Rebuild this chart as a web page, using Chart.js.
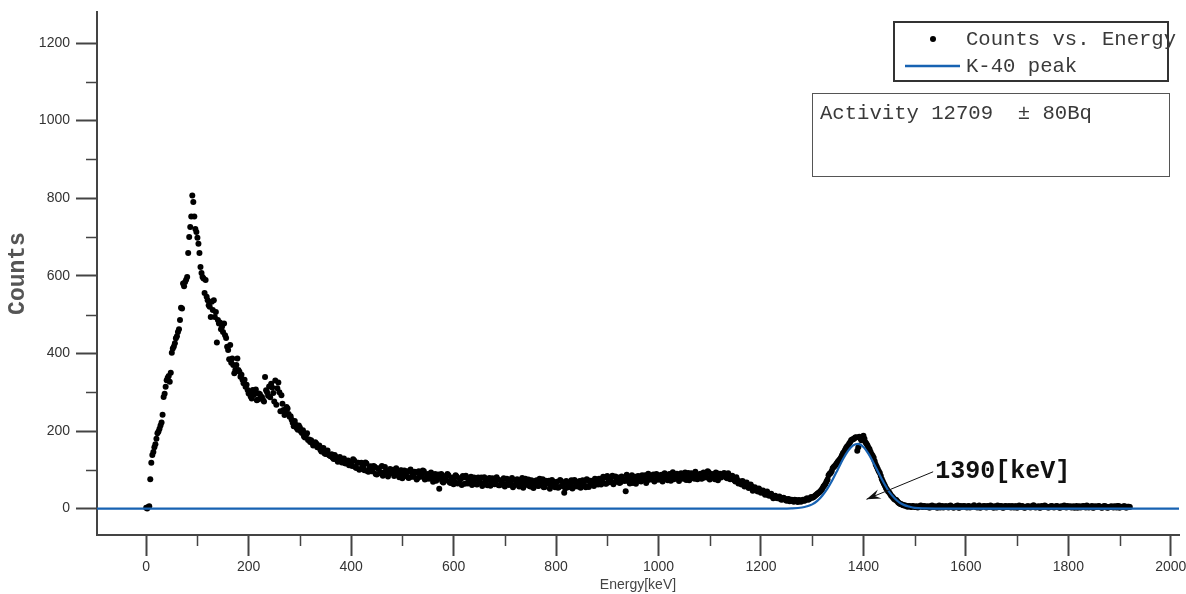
<!DOCTYPE html>
<html>
<head>
<meta charset="utf-8">
<title>Counts vs. Energy</title>
<script src="https://cdn.jsdelivr.net/npm/chart.js@4.4.1/dist/chart.umd.min.js"></script>
<style>
  html, body { margin: 0; padding: 0; background: #fff; }
  canvas { display: block; }
</style>
</head>
<body>
<canvas id="spectrumChart" width="1186" height="594"></canvas>
<script>
// Spectrum points (energy in keV, counts per channel)
const energy = [
  0,2,4,6,8,10,12,14,16,18,
  20,22,24,26,28,30,32,34,36,38,
  40,42,44,46,48,50,52,54,56,58,
  60,62,64,66,68,70,72,74,76,78,
  80,82,84,86,88,90,92,94,96,98,
  100,102,104,106,108,110,112,114,116,118,
  120,122,124,126,128,130,132,134,136,138,
  140,142,144,146,148,150,152,154,156,158,
  160,162,164,166,168,170,172,174,176,178,
  180,182,184,186,188,190,192,194,196,198,
  200,
  204,208,212,216,220,224,228,232,236,240,
  244,248,252,256,260,264,268,272,276,280,
  284,288,292,296,300,304,308,312,316,320,
  324,328,332,336,340,344,348,352,356,360,
  364,368,372,376,380,384,388,392,396,400,
  404,408,412,416,420,424,428,432,436,440,
  444,448,452,456,460,464,468,472,476,480,
  484,488,492,496,500,504,508,512,516,520,
  524,528,532,536,540,544,548,552,556,560,
  564,568,572,576,580,584,588,592,596,600,
  604,608,612,616,620,624,628,632,636,640,
  644,648,652,656,660,664,668,672,676,680,
  684,688,692,696,700,704,708,712,716,720,
  724,728,732,736,740,744,748,752,756,760,
  764,768,772,776,780,784,788,792,796,800,
  804,808,812,816,820,824,828,832,836,840,
  844,848,852,856,860,864,868,872,876,880,
  884,888,892,896,900,904,908,912,916,920,
  924,928,932,936,940,944,948,952,956,960,
  964,968,972,976,980,984,988,992,996,1000,
  1004,1008,1012,1016,1020,1024,1028,1032,1036,1040,
  1044,1048,1052,1056,1060,1064,1068,1072,1076,1080,
  1084,1088,1092,1096,1100,1104,1108,1112,1116,1120,
  1124,1128,1132,1136,1140,1144,1148,1152,1156,1160,
  1164,1168,1172,1176,1180,1184,1188,1192,1196,1200,
  1204,1208,1212,1216,1220,1224,1228,1232,1236,1240,
  1244,1248,1252,1256,1260,1264,1268,1272,1276,1280,
  1284,1288,1292,1296,1300,1304,1308,1312,1316,1320,
  1324,1328,1332,1336,1340,1344,1348,1352,1356,1360,
  1364,1368,1372,1376,1380,1384,1388,1392,1396,1400,
  1404,1408,1412,1416,1420,1424,1428,1432,1436,1440,
  1444,1448,1452,1456,1460,1464,1468,1472,1476,1480,
  1484,1488,1492,1496,1500,1504,1508,1512,1516,1520,
  1524,1528,1532,1536,1540,1544,1548,1552,1556,1560,
  1564,1568,1572,1576,1580,1584,1588,1592,1596,1600,
  1604,1608,1612,1616,1620,1624,1628,1632,1636,1640,
  1644,1648,1652,1656,1660,1664,1668,1672,1676,1680,
  1684,1688,1692,1696,1700,1704,1708,1712,1716,1720,
  1724,1728,1732,1736,1740,1744,1748,1752,1756,1760,
  1764,1768,1772,1776,1780,1784,1788,1792,1796,1800,
  1804,1808,1812,1816,1820,1824,1828,1832,1836,1840,
  1844,1848,1852,1856,1860,1864,1868,1872,1876,1880,
  1884,1888,1892,1896,1900,1904,1908,1912,1916,1920
];

const counts = [
  2,0,4,6,76,118,138,146,158,166,
  180,194,199,206,214,222,242,288,296,314,
  331,337,342,327,350,402,413,418,426,439,
  444,455,462,486,518,516,580,573,584,590,
  597,659,700,726,753,807,790,753,721,713,
  698,683,659,623,607,597,593,556,589,546,
  537,524,520,494,533,512,537,494,507,428,
  486,477,480,462,469,455,477,447,440,417,
  409,385,422,376,387,370,349,357,370,387,
  357,353,340,345,332,323,332,314,319,306,
  297,
  289,306,297,279,297,286,280,339,300,315,
  322,298,330,310,300,292,254,246,258,237,
  229,212,216,203,209,195,186,190,177,172,
  169,165,168,160,152,155,143,148,139,135,
  131,138,126,130,122,126,117,122,112,118,
  127,107,118,100,118,106,119,96,106,96,
  110,89,104,91,110,92,97,83,102,92,
  84,104,89,98,78,98,92,79,101,83,
  95,75,96,82,98,75,87,77,93,69,
  89,75,51,89,67,84,89,68,79,63,
  86,65,78,61,81,85,65,74,61,80,
  63,80,67,58,81,71,77,59,78,63,
  81,60,73,65,57,77,61,71,55,74,
  76,57,69,54,77,64,58,73,53,71,
  59,77,63,55,72,65,51,74,58,67,
  54,74,58,41,71,55,65,52,74,60,
  68,54,73,59,76,56,72,62,77,69,
  77,62,82,65,84,68,80,63,83,71,
  66,83,73,45,82,65,86,77,64,84,
  71,86,74,66,90,76,84,70,89,75,
  86,70,91,79,88,72,94,78,90,71,
  91,77,93,80,73,91,82,95,76,87,
  77,93,82,96,75,89,80,93,73,90,
  88,92,80,91,76,85,73,81,65,70,
  71,57,67,53,62,46,55,46,52,41,
  47,36,44,33,38,27,33,27,31,23,
  28,22,24,19,23,18,22,17,21,20,
  20,25,23,27,28,31,36,40,45,52,
  60,70,86,92,104,110,117,124,131,143,
  151,160,167,176,179,183,149,185,176,188,
  171,163,153,140,131,114,102,92,76,64,
  53,45,38,31,25,22,16,12,10,8,
  7,6,5,7,4,6,5,8,4,6,
  5,3,7,4,6,2,8,5,3,6,
  4,7,5,2,6,8,3,5,7,4,
  6,3,5,9,4,6,2,5,7,3,
  5,8,4,6,3,5,7,2,6,4,
  7,3,5,6,2,8,4,5,3,6,
  4,6,9,3,5,2,7,4,6,3,
  5,7,3,6,4,2,5,8,3,5,
  6,4,2,7,5,3,6,4,8,3,
  5,2,6,4,7,3,5,6,2,4,
  6,3,5,7,2,4,6,3,5,4
];

// Interleaved channels between the ones above
const energyB = [
  202,206,210,214,218,222,226,230,234,238,
  242,246,250,254,258,262,266,270,274,278,
  282,286,290,294,298,302,306,310,314,318,
  322,326,330,334,338,342,346,350,354,358,
  362,366,370,374,378,382,386,390,394,398,
  402,406,410,414,418,422,426,430,434,438,
  442,446,450,454,458,462,466,470,474,478,
  482,486,490,494,498,502,506,510,514,518,
  522,526,530,534,538,542,546,550,554,558,
  562,566,570,574,578,582,586,590,594,598,
  602,606,610,614,618,622,626,630,634,638,
  642,646,650,654,658,662,666,670,674,678,
  682,686,690,694,698,702,706,710,714,718,
  722,726,730,734,738,742,746,750,754,758,
  762,766,770,774,778,782,786,790,794,798,
  802,806,810,814,818,822,826,830,834,838,
  842,846,850,854,858,862,866,870,874,878,
  882,886,890,894,898,902,906,910,914,918,
  922,926,930,934,938,942,946,950,954,958,
  962,966,970,974,978,982,986,990,994,998,
  1002,1006,1010,1014,1018,1022,1026,1030,1034,1038,
  1042,1046,1050,1054,1058,1062,1066,1070,1074,1078,
  1082,1086,1090,1094,1098,1102,1106,1110,1114,1118,
  1122,1126,1130,1134,1138,1142,1146,1150,1154,1158,
  1162,1166,1170,1174,1178,1182,1186,1190,1194,1198,
  1202,1206,1210,1214,1218,1222,1226,1230,1234,1238,
  1242,1246,1250,1254,1258,1262,1266,1270,1274,1278,
  1282,1286,1290,1294,1298,1302,1306,1310,1314,1318,
  1322,1326,1330,1334,1338,1342,1346,1350,1354,1358,
  1362,1366,1370,1374,1378,1382,1386,1390,1394,1398,
  1402,1406,1410,1414,1418,1422,1426,1430,1434,1438,
  1442,1446,1450,1454,1458,1462,1466,1470,1474,1478,
  1482,1486,1490,1494,1498,1502,1506,1510,1514,1518,
  1522,1526,1530,1534,1538,1542,1546,1550,1554,1558,
  1562,1566,1570,1574,1578,1582,1586,1590,1594,1598,
  1602,1606,1610,1614,1618,1622,1626,1630,1634,1638,
  1642,1646,1650,1654,1658,1662,1666,1670,1674,1678,
  1682,1686,1690,1694,1698,1702,1706,1710,1714,1718,
  1722,1726,1730,1734,1738,1742,1746,1750,1754,1758,
  1762,1766,1770,1774,1778,1782,1786,1790,1794,1798,
  1802,1806,1810,1814,1818,1822,1826,1830,1834,1838,
  1842,1846,1850,1854,1858,1862,1866,1870,1874,1878,
  1882,1886,1890,1894,1898,1902,1906,1910,1914,1918
];

const countsB = [
  301,284,293,307,281,295,288,276,305,291,
  287,312,276,268,325,251,270,241,262,244,
  238,221,226,207,214,199,202,183,194,178,
  176,163,171,158,163,147,156,141,150,137,
  140,128,134,121,133,119,129,116,124,113,
  110,124,105,118,102,114,99,116,95,109,
  96,108,88,103,94,85,107,97,90,99,
  100,87,95,81,99,90,84,96,80,94,
  82,94,79,90,85,96,77,89,84,78,
  85,72,88,78,70,81,73,86,66,80,
  70,83,66,76,84,64,79,70,82,67,
  76,62,74,80,64,72,60,79,66,74,
  64,76,60,71,78,62,73,66,79,60,
  62,74,65,79,59,70,75,57,68,63,
  73,58,69,76,56,67,72,60,70,55,
  69,56,71,62,52,67,59,73,56,68,
  57,71,60,67,55,73,61,70,58,75,
  62,75,70,80,64,77,71,85,67,79,
  80,68,77,71,87,70,79,66,82,72,
  83,70,80,86,72,81,75,88,73,82,
  75,87,78,84,73,89,80,76,87,83,
  78,88,84,74,92,79,86,77,89,80,
  90,78,87,80,94,81,88,76,91,82,
  80,87,83,78,86,79,76,70,74,67,
  62,68,58,61,55,57,50,52,44,48,
  43,40,39,35,36,31,32,28,29,25,
  24,26,20,25,21,20,23,19,22,18,
  23,21,27,24,30,29,34,38,42,48,
  57,64,75,90,96,107,113,121,127,137,
  146,156,163,171,178,181,184,158,181,183,
  180,167,157,146,136,122,108,96,84,70,
  59,49,42,34,28,23,19,14,11,9,
  8,5,7,4,6,5,3,6,5,7,
  4,6,3,8,5,4,6,3,7,5,
  6,3,8,5,4,6,2,7,5,6,
  3,7,4,6,5,3,8,4,6,5,
  7,4,6,2,5,8,4,6,3,7,
  4,5,7,3,6,4,5,7,2,5,
  6,3,5,7,4,6,3,5,8,4,
  3,6,4,5,7,3,6,4,5,7,
  5,3,6,4,2,6,5,7,3,6,
  4,7,3,5,6,4,2,7,5,3,
  5,4,6,3,7,5,4,6,3,5
];

// K-40 peak fit
const fitEnergy = [-120, 1240, 1260, 1280, 1290, 1300, 1310, 1320, 1330, 1340, 1350, 1360, 1370,
  1380, 1390, 1400, 1410, 1420, 1430, 1440, 1450, 1460, 1470, 1480, 1490, 1500, 1520, 1540, 2100];
const fitCounts = [0, 0, 0.6, 2.9, 6, 11, 20, 34, 52, 75, 101, 127, 149,
  163, 167, 159, 141, 117, 91, 66, 44, 28, 16, 9, 5, 2, 0.4, 0, 0];

// Minor tick values (unlabelled)
const xMinorTicks = [100, 300, 500, 700, 900, 1100, 1300, 1500, 1700, 1900];
const yMinorTicks = [100, 300, 500, 700, 900, 1100];

// Texts
const legendLabels = ['Counts vs. Energy', 'K-40 peak'];
const activityText = 'Activity 12709  \u00b1 80Bq';
const peakLabel = '1390[keV]';
const peakArrowTip = [1406, 24];
const peakLabelPos = [1540, 95];

const blue = '#1762b2';
const axisColor = '#444';
const mono = '"Liberation Mono", "Courier New", monospace';
const sans = '"Liberation Sans", Arial, Helvetica, sans-serif';

const points = energy.map((e, i) => ({ x: e, y: counts[i] }))
  .concat(energyB.map((e, i) => ({ x: e, y: countsB[i] })));
const fitPoints = fitEnergy.map((e, i) => ({ x: e, y: fitCounts[i] }));

// Draws minor ticks, legend box, activity box and the peak arrow
const decorations = {
  id: 'decorations',
  afterDraw(chart) {
    const ctx = chart.ctx;
    const xs = chart.scales.x;
    const ys = chart.scales.y;
    const area = chart.chartArea;
    ctx.save();

    // minor ticks
    ctx.strokeStyle = axisColor;
    ctx.lineWidth = 1.5;
    ctx.beginPath();
    xMinorTicks.forEach(v => {
      const px = Math.round(xs.getPixelForValue(v)) + 0.5;
      ctx.moveTo(px, area.bottom);
      ctx.lineTo(px, area.bottom + 11);
    });
    yMinorTicks.forEach(v => {
      const py = Math.round(ys.getPixelForValue(v)) + 0.5;
      ctx.moveTo(area.left, py);
      ctx.lineTo(area.left - 11, py);
    });
    ctx.stroke();

    // legend box
    const lx = area.right - 285, ly = 22;
    ctx.strokeStyle = '#333';
    ctx.lineWidth = 2;
    ctx.strokeRect(lx, ly, 274, 59);
    ctx.fillStyle = '#000';
    ctx.beginPath();
    ctx.arc(lx + 39, ly + 17, 3, 0, Math.PI * 2);
    ctx.fill();
    ctx.strokeStyle = blue;
    ctx.lineWidth = 2.5;
    ctx.beginPath();
    ctx.moveTo(lx + 11, ly + 44);
    ctx.lineTo(lx + 66, ly + 44);
    ctx.stroke();
    ctx.font = '20.6px ' + mono;
    ctx.fillStyle = '#3a3a3a';
    ctx.textAlign = 'left';
    ctx.textBaseline = 'middle';
    ctx.fillText(legendLabels[0], lx + 72, ly + 18);
    ctx.fillText(legendLabels[1], lx + 72, ly + 45);

    // activity box
    const bx = area.right - 367, by = 93;
    ctx.strokeStyle = '#555';
    ctx.lineWidth = 1;
    ctx.strokeRect(bx + 0.5, by + 0.5, 357, 83);
    ctx.fillText(activityText, bx + 8, by + 21);

    // peak arrow and label
    const tipX = xs.getPixelForValue(peakArrowTip[0]);
    const tipY = ys.getPixelForValue(peakArrowTip[1]);
    const labX = xs.getPixelForValue(peakLabelPos[0]);
    const labY = ys.getPixelForValue(peakLabelPos[1]);
    ctx.strokeStyle = '#111';
    ctx.fillStyle = '#111';
    ctx.lineWidth = 1;
    ctx.beginPath();
    ctx.moveTo(labX - 2, labY);
    ctx.lineTo(tipX, tipY);
    ctx.stroke();
    const a = Math.atan2(tipY - labY, tipX - labX);
    const len = 15;
    ctx.beginPath();
    ctx.moveTo(tipX, tipY);
    ctx.lineTo(tipX - len * Math.cos(a - 0.33), tipY - len * Math.sin(a - 0.33));
    ctx.lineTo(tipX - len * 0.6 * Math.cos(a), tipY - len * 0.6 * Math.sin(a));
    ctx.lineTo(tipX - len * Math.cos(a + 0.33), tipY - len * Math.sin(a + 0.33));
    ctx.closePath();
    ctx.fill();
    ctx.font = 'bold 25px ' + mono;
    ctx.fillText(peakLabel, labX, labY);

    ctx.restore();
  }
};

new Chart(document.getElementById('spectrumChart'), {
  type: 'scatter',
  data: {
    datasets: [
      {
        label: legendLabels[1],
        data: fitPoints,
        showLine: true,
        borderColor: blue,
        borderWidth: 2.2,
        pointRadius: 0,
        cubicInterpolationMode: 'monotone',
        clip: 0,
        order: 0
      },
      {
        label: legendLabels[0],
        data: points,
        pointRadius: 3,
        pointBorderWidth: 0,
        pointBackgroundColor: '#000',
        backgroundColor: '#000',
        order: 1
      }
    ]
  },
  options: {
    responsive: false,
    animation: false,
    layout: { padding: { top: 12, right: 7, left: 0, bottom: 0 } },
    plugins: {
      legend: { display: false },
      tooltip: { enabled: false }
    },
    scales: {
      x: {
        type: 'linear',
        min: -96,
        max: 2016,
        afterFit(scale) {
          scale.height = 59;
          scale.paddingLeft = 0;
          scale.paddingRight = 0;
        },
        ticks: {
          stepSize: 200,
          includeBounds: false,
          padding: 3,
          color: '#333',
          font: { family: sans, size: 14 },
          callback: v => String(v)
        },
        grid: {
          display: true,
          drawOnChartArea: false,
          tickLength: 21,
          tickWidth: 2,
          tickColor: axisColor
        },
        border: { display: true, color: axisColor, width: 2 },
        title: {
          display: true,
          text: 'Energy[keV]',
          color: '#444',
          padding: { top: 0, bottom: 0 },
          font: { family: sans, size: 14 }
        }
      },
      y: {
        type: 'linear',
        min: -68,
        max: 1280,
        afterFit(scale) {
          scale.width = 97;
          scale.paddingTop = 0;
          scale.paddingBottom = 0;
        },
        ticks: {
          stepSize: 200,
          includeBounds: false,
          padding: 6,
          color: '#333',
          font: { family: sans, size: 14 },
          callback: v => String(v)
        },
        grid: {
          display: true,
          drawOnChartArea: false,
          tickLength: 21,
          tickWidth: 2,
          tickColor: axisColor
        },
        border: { display: true, color: axisColor, width: 2 },
        title: {
          display: true,
          text: 'Counts',
          color: '#555',
          padding: { top: 4, bottom: 0 },
          font: { family: mono, size: 23, weight: 'bold' }
        }
      }
    }
  },
  plugins: [decorations]
});
</script>
</body>
</html>
